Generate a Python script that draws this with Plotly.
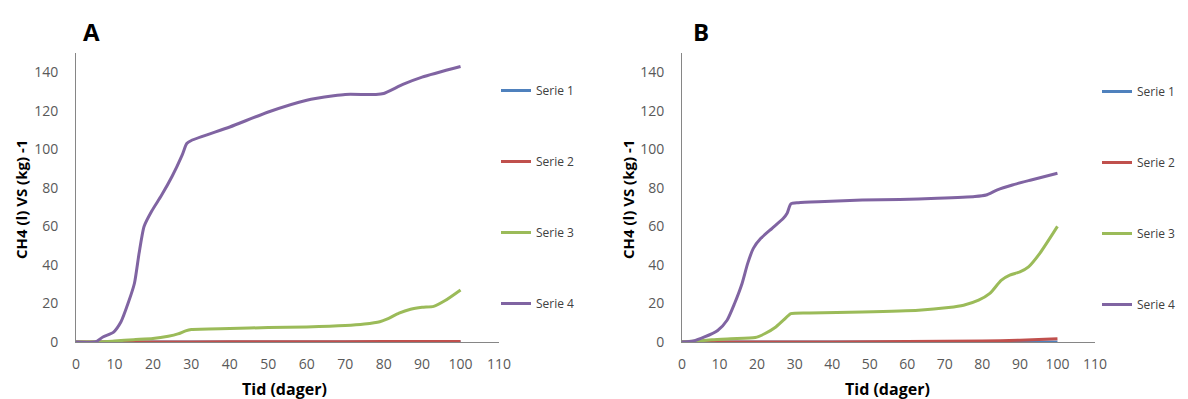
import plotly.graph_objects as go

# Panel A: cumulative CH4 yield per series
a_days_s1 = [0, 20, 40, 60, 80, 100]
a_s1 = [0, 0, 0, 0, 0, 0]
a_days_s2 = [0, 20, 40, 60, 80, 100]
a_s2 = [0, 0, 0.1, 0.1, 0.2, 0.3]
a_days_s3 = [0, 6, 10, 15, 20, 24, 26.5, 28.5, 30, 40, 50, 60, 70, 75, 79, 81, 84, 87, 90, 93, 96, 100]
a_s3 = [0, 0, 0.5, 1.2, 1.8, 3, 4.2, 5.8, 6.5, 7, 7.5, 7.8, 8.5, 9.3, 10.5, 12, 15, 17, 18, 18.5, 21.5, 27]
a_days_s4 = [0, 5, 7, 9.7, 11.7, 13.7, 15.2, 16.4, 17.7, 19.7, 22.2, 25, 27.6, 28.8, 30, 40, 50, 60, 67, 70, 78, 80, 85, 90, 100]
a_s4 = [0, 0, 2.6, 5, 10.5, 21, 30.5, 46, 60, 68, 76, 86, 97, 103, 104.6, 111.6, 119.4, 125.5, 127.8, 128.5, 128.5, 129, 133.7, 137.5, 143]

# Panel B
b_days_s1 = [0, 20, 40, 60, 80, 100]
b_s1 = [0, 0, 0, 0, 0, 0]
b_days_s2 = [0, 20, 40, 60, 80, 90, 100]
b_s2 = [0, 0, 0, 0.2, 0.5, 0.9, 1.7]
b_days_s3 = [0, 4, 8, 13, 19.5, 22, 25, 27, 29, 34, 48, 63, 71, 75, 79, 82, 85, 87.3, 90, 92.3, 95.3, 100]
b_s3 = [0, 0.5, 1.2, 1.7, 2.3, 4.3, 7.8, 11.3, 14.7, 15.1, 15.6, 16.5, 17.9, 19.1, 21.7, 25.2, 32, 34.7, 36.4, 39, 46, 60]
b_days_s4 = [0, 3, 6, 9.5, 12, 14, 16, 17.5, 19, 21, 24, 27, 28, 29, 31, 38, 48, 58, 68, 78, 81, 84, 88, 93, 100]
b_s4 = [0, 0.5, 2.6, 6, 11.3, 20, 30.4, 40.8, 48.6, 53.8, 59, 64.2, 66.8, 71.7, 72.3, 72.9, 73.7, 74, 74.6, 75.5, 76.3, 79, 81.5, 84.1, 87.6]

series_names = ["Serie 1", "Serie 2", "Serie 3", "Serie 4"]
colors = ["#4F81BD", "#C0504D", "#9BBB59", "#8064A2"]

x_ticks = list(range(0, 111, 10))
y_ticks = list(range(0, 141, 20))

W, H = 1188, 399
FONT = "Open Sans"
TICK_COLOR = "#595959"

fig = go.Figure()

panels = [
    ("x", "y", "legend", [(a_days_s1, a_s1), (a_days_s2, a_s2), (a_days_s3, a_s3), (a_days_s4, a_s4)]),
    ("x2", "y2", "legend2", [(b_days_s1, b_s1), (b_days_s2, b_s2), (b_days_s3, b_s3), (b_days_s4, b_s4)]),
]
for xa, ya, leg, data in panels:
    for i, (xs, ys) in enumerate(data):
        fig.add_trace(go.Scatter(
            x=xs, y=ys, mode="lines", name=series_names[i],
            line=dict(color=colors[i], width=3, shape="spline", smoothing=0.6),
            xaxis=xa, yaxis=ya, legend=leg, legendgroup=f"{leg}{i}",
            hoverinfo="x+y+name",
        ))

px = lambda v: v / W
py = lambda v: 1 - v / H

axis_common = dict(
    showgrid=False, zeroline=False, showline=True, linecolor="#868686", linewidth=1,
    ticks="", automargin=False, tickfont=dict(family=FONT, size=14, color=TICK_COLOR),
)

y_dom = [py(342), py(53)]
fig.update_layout(
    width=W, height=H,
    margin=dict(l=0, r=0, t=0, b=0, autoexpand=False),
    paper_bgcolor="white", plot_bgcolor="white",
    showlegend=True,
    xaxis=dict(domain=[px(76), px(499)], range=[0, 110], tickvals=x_ticks,
               ticklabelstandoff=9, anchor="y", **axis_common),
    yaxis=dict(domain=y_dom, range=[0, 150], tickvals=y_ticks,
               ticklabelstandoff=14, anchor="x", **axis_common),
    xaxis2=dict(domain=[px(682), px(1095)], range=[0, 110], tickvals=x_ticks,
                ticklabelstandoff=9, anchor="y2", **axis_common),
    yaxis2=dict(domain=y_dom, range=[0, 150], tickvals=y_ticks,
                ticklabelstandoff=14, anchor="x2", **axis_common),
    legend=dict(x=px(496), y=py(76), xanchor="left", yanchor="top",
                traceorder="grouped", tracegroupgap=52, itemwidth=30,
                font=dict(family=FONT, size=12, color="#404040"), bgcolor="rgba(0,0,0,0)"),
    legend2=dict(x=px(1097), y=py(77), xanchor="left", yanchor="top",
                 traceorder="grouped", tracegroupgap=52, itemwidth=30,
                 font=dict(family=FONT, size=12, color="#404040"), bgcolor="rgba(0,0,0,0)"),
)

ann = []
center = dict(xref="paper", yref="paper", xanchor="center", yanchor="middle", showarrow=False)
for label, x0 in (("A", 91), ("B", 701)):
    ann.append(dict(text=f"<b>{label}</b>", x=px(x0), y=py(31),
                    font=dict(family=FONT, size=24, color="black"), **center))
for x0 in (21, 628):
    ann.append(dict(text="<b>CH4 (l) VS (kg) -1</b>", x=px(x0), y=py(200), textangle=-90,
                    font=dict(family=FONT, size=15, color="black"), **center))
for x0 in (284, 887):
    ann.append(dict(text="<b>Tid (dager)</b>", x=px(x0), y=py(389),
                    font=dict(family=FONT, size=16, color="black"), **center))
fig.update_layout(annotations=ann)

fig.write_html("out.html")
